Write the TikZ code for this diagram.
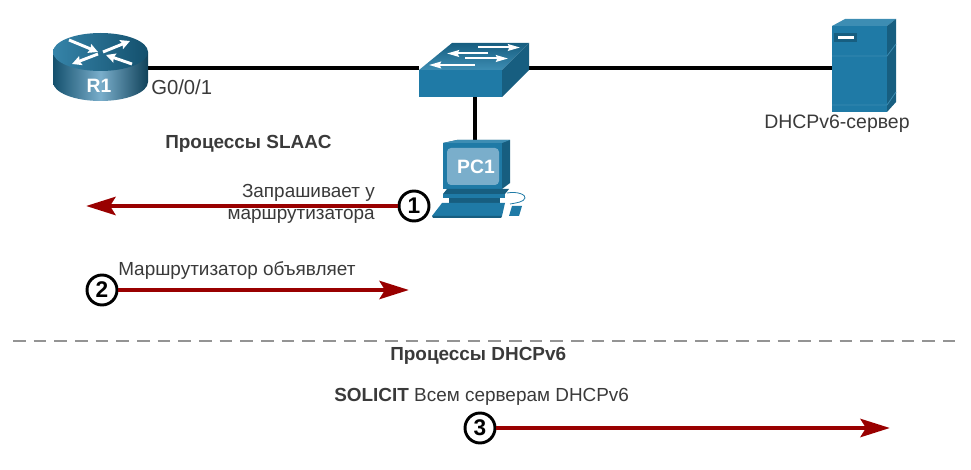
\documentclass[tikz,border=0pt]{standalone}
\usepackage{fontspec}
\setmainfont{Liberation Sans}
\usetikzlibrary{arrows.meta,calc}
\definecolor{ciscoblue}{HTML}{1F7AA6}
\definecolor{ciscodark}{HTML}{175E80}
\definecolor{ciscolight}{HTML}{3D8DB3}
\definecolor{arrowred}{HTML}{990000}
\definecolor{txt}{HTML}{3A3A3A}
\definecolor{screenblue}{HTML}{7AAECB}
\tikzset{
  link/.style={draw=black,line width=2.9pt},
  flow/.style={draw=arrowred,line width=3.7pt,-{Stealth[length=22pt,width=13.5pt,inset=4pt]}},
  badge/.style={circle,draw=black,fill=white,line width=2.2pt,minimum size=22.5pt,inner sep=0pt,font=\fontsize{17}{17}\selectfont\bfseries,text=black},
  lbl/.style={font=\fontsize{14.2}{16.5}\selectfont,text=txt,inner sep=0pt},
  head/.style={font=\fontsize{14.2}{16.5}\selectfont\bfseries,text=txt,inner sep=0pt},
  devlbl/.style={font=\fontsize{14.5}{15}\selectfont\bfseries,text=white,inner sep=0pt},
  white arrow/.style={draw=white,line width=2.2pt,-{Stealth[length=7pt,width=7pt,inset=1pt]}},
  swarrow/.style={draw=white,line width=1.5pt,-{Stealth[length=9pt,width=5pt,inset=1pt]}},
  divider/.style={draw=black!42,line width=2.2pt,dash pattern=on 9.5pt off 6pt},
}
\begin{document}
\begin{tikzpicture}[x=0.75pt,y=-0.75pt]
\useasboundingbox (0,0) rectangle (971,470);
% anchors for the devices
\coordinate (r1port) at (148,68);
\coordinate (swL) at (419,68);
\coordinate (swR) at (529,68);
\coordinate (swB) at (475,97);
\coordinate (pcT) at (475,140);
\coordinate (srvL) at (832,68);
% links
\draw[link] (r1port) -- (swL);
\draw[link] (swR) -- (srvL);
\draw[link] (swB) -- (pcT);
% router
\shade[left color=ciscodark!85!black,right color=ciscodark!70!black,middle color=screenblue]
  (53,52) -- (53,82) arc[start angle=180,end angle=0,x radius=47.5,y radius=19] -- (148,52) -- cycle;
\shade[left color=ciscolight!80!ciscodark,right color=ciscodark!85!black]
  (100.5,52) ellipse[x radius=47.5,y radius=19];
\draw[white arrow] (69,40) -- (98,52);
\draw[white arrow] (103,52) -- (130,41);
\draw[white arrow] (98,54) -- (72,64);
\draw[white arrow] (132,64) -- (106,55);
\node[devlbl] (r1) at (99,86) {R1};
\node[lbl,anchor=west,font=\fontsize{15.2}{16.5}\selectfont] (g) at (151,87.5) {G0/0/1};
% switch
\fill[ciscoblue] (419,70) rectangle (502,97);
\shade[top color=ciscodark,bottom color=ciscolight] (419,70) -- (452,43) -- (529,43) -- (502,70) -- cycle;
\fill[ciscodark] (502,70) -- (529,43) -- (529,70) -- (502,97) -- cycle;
\draw[swarrow] (478,47.5) -- (520,47.5);
\draw[swarrow] (488,53.5) -- (447,53.5);
\draw[swarrow] (465,58.5) -- (508,58.5);
\draw[swarrow] (475,65) -- (429,65);
% PC
\fill[ciscodark] (443,143) -- (457,140) -- (510,140) -- (510,183) -- (502,189) -- (502,143) -- cycle;
\fill[ciscoblue] (443,143) rectangle (502,189);
\fill[ciscolight] (443,143) -- (457,140) -- (510,140) -- (502,143) -- cycle;
\fill[screenblue,rounded corners=3pt] (447,148) rectangle (499,185);
\node[devlbl] (pc1) at (476,167) {PC1};
\fill[ciscodark] (447,189) -- (509,189) -- (505,194) -- (443,194) -- cycle;
\fill[ciscoblue] (443,194) rectangle (505,198);
\fill[ciscodark] (449,198) rectangle (500,203);
\fill[ciscoblue] (442,203) -- (505,203) -- (502,216) -- (432,216) -- cycle;
\fill[ciscodark] (432,216) -- (502,216) -- (501,218) -- (433,218) -- cycle;
\fill[ciscoblue] (512,206) -- (522,206) -- (519,216) -- (509,216) -- cycle;
\draw[ciscoblue,line width=0.6pt] (507,193) .. controls (518,191) and (526,195) .. (525,198) .. controls (524,202) and (516,203) .. (510,204);
% server
\fill[ciscoblue] (832,26) rectangle (887,112);
\fill[ciscolight] (832,26) -- (845,19) -- (896,19) -- (887,26) -- cycle;
\fill[ciscodark] (887,26) -- (896,19) -- (896,102) -- (887,112) -- cycle;
\fill[ciscodark] (834,33) rectangle (857,42);
\fill[white] (838,36) rectangle (854,39);
\draw[ciscolight,line width=0.6pt] (832,56) -- (887,56) -- (896,44);
\draw[ciscolight,line width=0.6pt] (832,105) -- (887,105) -- (896,92);
\node[lbl,anchor=west,font=\fontsize{14.6}{16.5}\selectfont] (dhcp) at (764,124) {DHCPv6-сервер};
% headings and labels
\node[head,anchor=west] (h1) at (165,144) {Процессы SLAAC};
\node[lbl,align=right,anchor=east] (t1) at (375,204) {Запрашивает у\\маршрутизатора};
\node[lbl,anchor=west] (t2) at (118,271) {Маршрутизатор объявляет};
\node[head,anchor=west] (h2) at (390,356) {Процессы DHCPv6};
\node[lbl,anchor=west] (t3) at (334,397) {\textbf{SOLICIT} Всем серверам DHCPv6};
% divider
\coordinate (dL) at (13,341);
\coordinate (dR) at (955,341);
\draw[divider] (dL) -- (dR);
% flows
\node[badge] (n1) at (414,206) {1};
\node[badge] (n2) at (102,290) {2};
\node[badge] (n3) at (480,428) {3};
\coordinate (e1) at (86,206);
\coordinate (e2) at (409,290);
\coordinate (e3) at (890,428);
\draw[flow] (n1) -- (e1);
\draw[flow] (n2) -- (e2);
\draw[flow] (n3) -- (e3);
\end{tikzpicture}
\end{document}
